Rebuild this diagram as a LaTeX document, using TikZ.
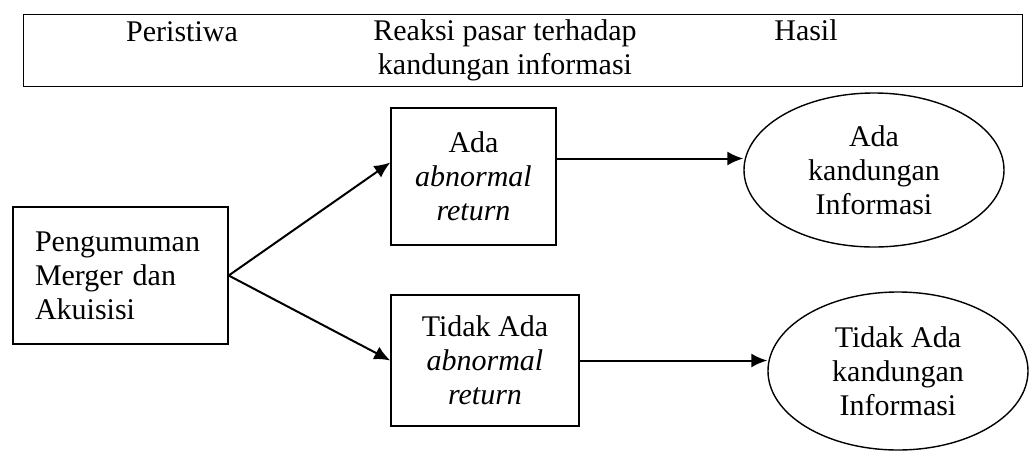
\documentclass[tikz,border=0pt]{standalone}
\usepackage{fontspec}
\setmainfont{Liberation Serif}
\usetikzlibrary{shapes.geometric,arrows.meta}

\tikzset{
  kotak/.style={draw,line width=0.7pt,inner sep=0pt,align=center},
  elips/.style={draw,ellipse,line width=0.7pt,inner sep=0pt,align=center},
}

\begin{document}
\begin{tikzpicture}[x=0.5pt,y=-0.5pt,font=\fontsize{15}{17}\selectfont,
  >={Latex[length=8pt,width=7pt]}]
  \useasboundingbox (0,0) rectangle (1029,451);

  % judul
  \node[draw,line width=0.5pt,inner sep=0pt,minimum width=499.5pt,minimum height=36pt] (kepala) at (522.5,50) {};
  \node (peristiwa) at (182,32) {Peristiwa};
  \node[align=center] (reaksi) at (505,50) {Reaksi pasar terhadap\\kandungan informasi};
  \node (hasil) at (806,30) {Hasil};

  % kotak
  \node[kotak,align=left,text width=85.5pt,inner xsep=11pt,minimum height=68.5pt] (pengumuman) at (120.5,275.5)
    {Pengumuman\\Merger dan\\Akuisisi};
  \node[kotak,minimum width=82.5pt,minimum height=68.5pt] (ada) at (473.5,176.5)
    {Ada\\\textit{abnormal}\\\textit{return}};
  \node[kotak,minimum width=94pt,minimum height=65.5pt] (tidak) at (485,360.5)
    {Tidak Ada\\\textit{abnormal}\\\textit{return}};

  % elips
  \node[elips,minimum width=130pt,minimum height=77pt] (adainfo) at (874,170)
    {Ada\\kandungan\\Informasi};
  \node[elips,minimum width=130pt,minimum height=79pt] (tidakinfo) at (898,371)
    {Tidak Ada\\kandungan\\Informasi};

  % panah
  \draw[->,line width=1pt] (pengumuman.east) -- ([yshift=7pt]ada.west);
  \draw[->,line width=1pt] (pengumuman.east) -- (tidak.west);
  \draw[->,line width=1pt] ([yshift=9pt]ada.east) -- ([yshift=9pt]ada.east -| adainfo.west);
  \draw[->,line width=1pt] (tidak.east) -- (tidak.east -| tidakinfo.west);
\end{tikzpicture}
\end{document}
